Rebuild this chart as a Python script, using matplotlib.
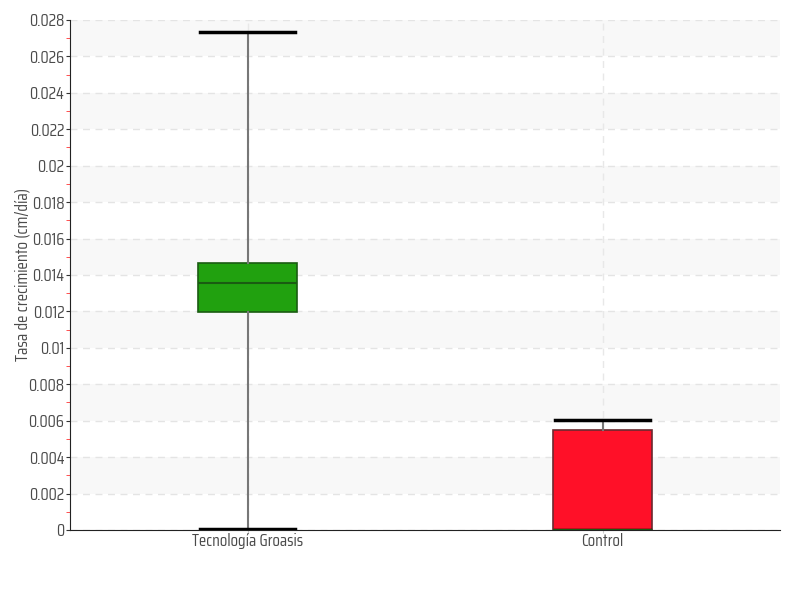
import matplotlib
matplotlib.use("Agg")
import matplotlib.pyplot as plt
from matplotlib.ticker import MultipleLocator

# datos
categorias = ["Tecnología Groasis", "Control"]
minimo = [0.00005, 0.0]
q1 = [0.01197, 0.0]
mediana = [0.01356, 0.0]
q3 = [0.01466, 0.00549]
maximo = [0.02734, 0.00604]
colores = ["#21a10f", "#ff1028"]
bordes = ["#1a5c12", "#6b2a30"]

plt.rcParams['font.family'] = ['Saira Condensed', 'DejaVu Sans']

fig = plt.figure(figsize=(8, 6), dpi=100)
ax = fig.add_axes([0.0875, 0.1167, 0.8875, 0.85])

# bandas alternas de fondo
for i in range(14):
    if i % 2 == 1:
        ax.axhspan(i * 0.002, (i + 1) * 0.002, color="#f8f8f8", zorder=0, lw=0)

stats = []
for i in range(len(categorias)):
    stats.append({"label": categorias[i], "whislo": minimo[i], "q1": q1[i],
                  "med": mediana[i], "q3": q3[i], "whishi": maximo[i], "fliers": []})

pos = [0.5 + i for i in range(len(categorias))]
bp = ax.bxp(stats, positions=pos, widths=0.28, patch_artist=True,
            whiskerprops=dict(color="#777777", lw=1.5),
            capprops=dict(color="black", lw=2.5),
            medianprops=dict(color="#1a5c12", lw=1.5),
            showfliers=False, zorder=3)
for caja, c, b in zip(bp["boxes"], colores, bordes):
    caja.set_facecolor(c)
    caja.set_edgecolor(b)
    caja.set_linewidth(1.2)
for cap in bp["caps"]:
    x0, x1 = cap.get_xdata()
    m = (x0 + x1) / 2
    cap.set_xdata([m - 0.135, m + 0.135])

ax.set_xlim(0, 2)
ax.set_ylim(0, 0.028)
ax.yaxis.set_minor_locator(MultipleLocator(0.001))
ax.set_yticks([i * 0.002 for i in range(15)])
ax.set_yticklabels(["0" if i == 0 else ("%g" % (i * 0.002)) for i in range(15)])
ax.set_xticks(pos)
ax.set_xticklabels(categorias)

ax.tick_params(axis="y", which="major", length=3, color="#333333", labelsize=12.2, labelcolor="#4a4a4a", pad=1)
ax.tick_params(axis="y", which="minor", length=3, color="#ff3333")
ax.tick_params(axis="x", length=2, labelsize=12.2, labelcolor="#4a4a4a", pad=0, color="#cccccc")

ax.grid(axis="y", which="major", ls=(0, (5, 4)), color="#e4e4e4", lw=1, zorder=1)
ax.grid(axis="x", ls=(0, (5, 4)), color="#e8e8e8", lw=1, zorder=1)
ax.set_axisbelow(True)

for s in ["top", "right"]:
    ax.spines[s].set_visible(False)
ax.spines["left"].set_color("#222222")
ax.spines["bottom"].set_color("#222222")

ax.set_ylabel("Tasa de crecimiento (cm/día)", fontsize=12.4, color="#4a4a4a")
ax.yaxis.set_label_coords(-0.055, 0.5)

fig.savefig("out.png", dpi=100)
